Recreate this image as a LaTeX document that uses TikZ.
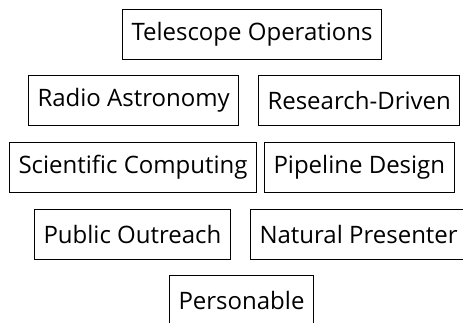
\documentclass[tikz,border=0pt]{standalone}
\usepackage{fontspec}
\setmainfont{Open Sans}
\usetikzlibrary{positioning}
\tikzset{
  tag/.style={draw, line width=1pt, minimum height=50pt, inner xsep=9pt,
    anchor=west, font=\fontsize{24}{28}\selectfont}
}
\begin{document}
\begin{tikzpicture}[x=1pt, y=-1pt]
    \useasboundingbox (0,0) rectangle (463,322);
    \clip (0,0) rectangle (463,322);
    % first row
    \node[tag] (tel) at (122,34) {Telescope Operations};
    % second row
    \node[tag] (radio) at (28,100.5) {Radio Astronomy};
    \node[tag] (research) at (258,100.5) {Research-Driven};
    % third row
    \node[tag] (scicomp) at (9,167.5) {Scientific Computing};
    \node[tag] (pipeline) at (264,167.5) {Pipeline Design};
    % fourth row
    \node[tag] (outreach) at (34,234) {Public Outreach};
    \node[tag] (presenter) at (250,234) {Natural Presenter};
    % last row
    \node[tag] (personable) at (169,300) {Personable};
\end{tikzpicture}
\end{document}
